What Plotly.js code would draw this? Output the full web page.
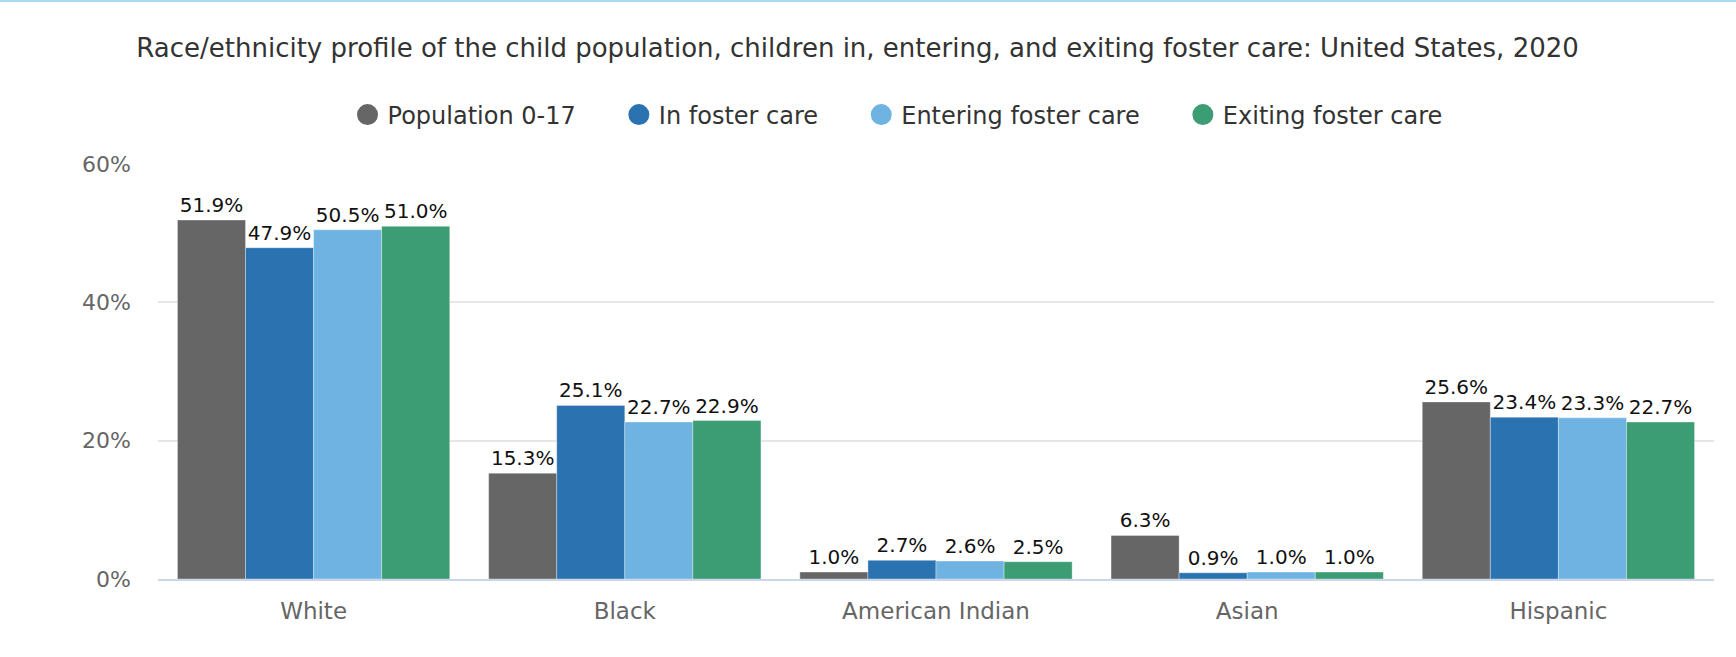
<!DOCTYPE html>
<html>
<head>
<meta charset="utf-8">
<script src="https://cdn.plot.ly/plotly-3.0.1.min.js"></script>
<style>
  html, body { margin: 0; padding: 0; background: #ffffff; }
  #chart { width: 1736px; height: 657px; }
</style>
</head>
<body>
<div id="chart"></div>
<script>
// ---- Data ----
const categories = ["White", "Black", "American Indian", "Asian", "Hispanic"];
const seriesNames = ["Population 0-17", "In foster care", "Entering foster care", "Exiting foster care"];
const population = [51.9, 15.3, 1.0, 6.3, 25.6];
const inFosterCare = [47.9, 25.1, 2.7, 0.9, 23.4];
const enteringFosterCare = [50.5, 22.7, 2.6, 1.0, 23.3];
const exitingFosterCare = [51.0, 22.9, 2.5, 1.0, 22.7];
const yTickValues = [0, 20, 40, 60];
const yTickLabels = ["0%", "20%", "40%", "60%"];
const titleText = "Race/ethnicity profile of the child population, children in, entering, and exiting foster care: United States, 2020";

// ---- Styles ----
const colors = ["#666666", "#2b73b0", "#6eb3e2", "#3c9c73"];
const FONT = "DejaVu Sans, Verdana, sans-serif";
const seriesValues = [population, inFosterCare, enteringFosterCare, exitingFosterCare];
const legendPad = "\u00a0\u00a0\u00a0\u00a0\u00a0";

const traces = [];
seriesValues.forEach((vals, i) => {
  traces.push({
    type: "bar",
    name: seriesNames[i],
    legendgroup: "g" + i,
    showlegend: false,
    x: categories,
    y: vals,
    marker: { color: colors[i], line: { color: "rgba(255,255,255,0.35)", width: 1 } },
    texttemplate: "%{y:.1f}%",
    textposition: "outside",
    cliponaxis: false,
    textfont: { family: FONT, size: 20, color: "#111111" },
    hovertemplate: "%{x}<br>" + seriesNames[i] + ": %{y:.1f}%<extra></extra>"
  });
});
// legend entries with round symbols
seriesNames.forEach((name, i) => {
  traces.push({
    type: "scatter",
    mode: "markers",
    name: i < seriesNames.length - 1 ? name + legendPad : name,
    legendgroup: "g" + i,
    showlegend: true,
    x: [null],
    y: [null],
    marker: { color: colors[i], size: 16, symbol: "circle", line: { color: colors[i], width: 5 } },
    hoverinfo: "skip"
  });
});

const layout = {
  width: 1736,
  height: 657,
  paper_bgcolor: "#ffffff",
  plot_bgcolor: "#ffffff",
  margin: { l: 158, r: 22, t: 164, b: 78 },
  font: { family: FONT, color: "#333333" },
  title: {
    text: titleText,
    font: { family: FONT, size: 26, color: "#333333" },
    xref: "container", x: 0.494, xanchor: "center",
    yref: "container", y: 0.927, yanchor: "middle"
  },
  legend: {
    orientation: "h",
    xref: "container", x: 0.517, xanchor: "center",
    yref: "container", y: 0.825, yanchor: "middle",
    font: { family: FONT, size: 24, color: "#333333" },
    itemsizing: "trace",
    traceorder: "normal",
    bgcolor: "rgba(0,0,0,0)"
  },
  barmode: "group",
  bargap: 0.125,
  bargroupgap: 0,
  xaxis: {
    type: "category",
    tickfont: { family: FONT, size: 23, color: "#666666" },
    showline: true,
    linecolor: "#ccd6eb",
    linewidth: 2,
    showgrid: false,
    ticks: "",
    ticklabelstandoff: 10,
    fixedrange: true
  },
  yaxis: {
    range: [0, 60],
    tickvals: yTickValues,
    ticktext: yTickLabels,
    tickfont: { family: FONT, size: 22, color: "#666666" },
    showgrid: true,
    gridcolor: "#e6e6e6",
    gridwidth: 1.5,
    zeroline: false,
    showline: false,
    ticks: "",
    ticklabelstandoff: 26,
    fixedrange: true
  },
  shapes: [{
    type: "line",
    xref: "paper", yref: "paper",
    x0: -158 / 1556, x1: (1736 - 158) / 1556,
    y0: (579 - 1) / 415, y1: (579 - 1) / 415,
    line: { color: "#a9dcf0", width: 2 }
  }],
  hovermode: "closest"
};

Plotly.newPlot("chart", traces, layout, { displayModeBar: false, staticPlot: false });
</script>
</body>
</html>
